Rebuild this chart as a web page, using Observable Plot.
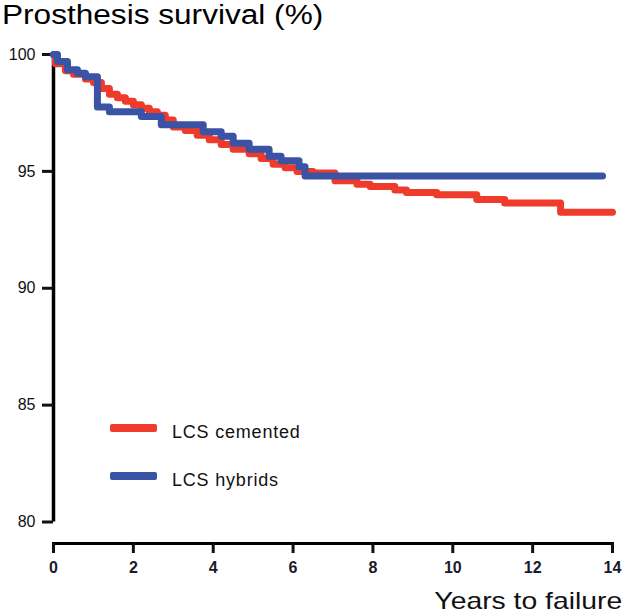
<!DOCTYPE html>
<html><head><meta charset="utf-8">
<script src="https://cdn.jsdelivr.net/npm/d3@7"></script>
<script src="https://cdn.jsdelivr.net/npm/@observablehq/plot@0.6"></script>
<style>
body{margin:0;background:#fff;}
#wrap{position:relative;width:624px;height:613px;overflow:hidden;font-family:"Liberation Sans",Arial,sans-serif;}
#wrap svg{position:absolute;left:0;top:0;}
.t{position:absolute;white-space:nowrap;line-height:1;color:#111;}
.sw{position:absolute;width:47px;height:8px;border-radius:2px;}
</style></head><body><div id="wrap"></div>
<script>
// Kaplan-Meier style survival curves (years, survival %)
const cementedYears    = [0, 0.05, 0.3, 0.5, 0.8, 1.0, 1.2, 1.4, 1.6, 1.8, 2.0, 2.2, 2.4, 2.6, 2.8, 3.0, 3.3, 3.6, 3.9, 4.2, 4.5, 4.9, 5.2, 5.5, 5.8, 6.1, 6.5, 7.05, 7.6, 7.93, 8.55, 8.84, 9.6, 10.6, 11.3, 12.7, 14.0];
const cementedSurvival = [100, 99.6, 99.3, 99.15, 98.95, 98.8, 98.55, 98.3, 98.15, 98.0, 97.85, 97.7, 97.55, 97.4, 97.2, 96.9, 96.75, 96.55, 96.35, 96.15, 95.95, 95.75, 95.55, 95.3, 95.15, 95.0, 94.93, 94.6, 94.45, 94.35, 94.2, 94.1, 94.0, 93.8, 93.65, 93.25, 93.25];
const hybridYears      = [0, 0.1, 0.35, 0.6, 0.8, 1.1, 1.4, 2.2, 2.7, 3.75, 4.2, 4.5, 4.9, 5.4, 5.7, 6.15, 6.3, 13.75];
const hybridSurvival   = [100, 99.7, 99.35, 99.2, 99.05, 97.75, 97.55, 97.35, 97.0, 96.7, 96.5, 96.2, 95.95, 95.65, 95.45, 95.2, 94.8, 94.8];
const seriesNames  = ["LCS cemented", "LCS hybrids"];
const seriesColors = ["#ee3b2b", "#3a53a4"];
const xTicks = [0, 2, 4, 6, 8, 10, 12, 14];
const yTicks = [80, 85, 90, 95, 100];
const titleText = "Prosthesis survival (%)";
const xLabelText = "Years to failure";

const cemented = cementedYears.map((x, i) => ({x, y: cementedSurvival[i]}));
const hybrid = hybridYears.map((x, i) => ({x, y: hybridSurvival[i]}));

const plot = Plot.plot({
  width: 624, height: 613,
  marginLeft: 53, marginRight: 12, marginTop: 54, marginBottom: 70,
  style: {fontFamily: "Liberation Sans, Arial, sans-serif", fontSize: "16px", color: "#111", background: "white"},
  x: {domain: [0, 14], label: null},
  y: {domain: [80, 100], range: [521.5, 54], label: null},
  marks: [
    Plot.frame({anchor: "bottom", stroke: "#000", strokeWidth: 3}),
    Plot.ruleX([0], {y1: 80, y2: 100, stroke: "#000", strokeWidth: 3.5}),
    Plot.axisX({ticks: xTicks, tickSize: 10, tickPadding: 8, strokeWidth: 3, fontWeight: "bold", fontSize: 16, label: null, fill: "#1a1a2e"}),
    Plot.axisY({ticks: yTicks, tickSize: 11, tickPadding: 7, strokeWidth: 3, fontSize: 16, label: null, fill: "#111"}),
    Plot.line(cemented, {x: "x", y: "y", curve: "step-after", stroke: seriesColors[0], strokeWidth: 7}),
    Plot.line(hybrid, {x: "x", y: "y", curve: "step-after", stroke: seriesColors[1], strokeWidth: 7})
  ]
});
const wrap = document.getElementById("wrap");
wrap.appendChild(plot);

function addText(txt, css) {
  const d = document.createElement("div");
  d.className = "t"; d.textContent = txt;
  Object.assign(d.style, css);
  wrap.appendChild(d);
  return d;
}
addText(titleText, {left: "2px", top: "2px", fontSize: "27px", transform: "scaleX(1.17)", transformOrigin: "0 0", color: "#000"});
addText(xLabelText, {right: "2px", top: "591px", fontSize: "24px", lineHeight: "20px", transform: "scaleX(1.18)", transformOrigin: "100% 0", color: "#111"});

const legendY = [428, 476];
seriesNames.forEach((name, i) => {
  const s = document.createElement("div");
  s.className = "sw";
  Object.assign(s.style, {left: "110px", top: (legendY[i] - 4) + "px", background: seriesColors[i]});
  wrap.appendChild(s);
  addText(name, {left: "172px", top: (legendY[i] - 5) + "px", fontSize: "18px", letterSpacing: "0.8px"});
});
</script></body></html>
